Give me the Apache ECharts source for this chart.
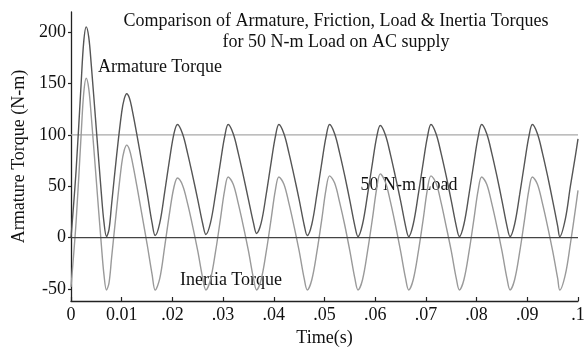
<!DOCTYPE html>
<html>
<head>
<meta charset="utf-8">
<script src="https://cdn.jsdelivr.net/npm/echarts@6/dist/echarts.min.js"></script>
<style>html,body{margin:0;padding:0;background:#fff;}#c{width:586px;height:347px;}</style>
</head>
<body>
<div id="c"></div>
<script>
// time (s)
var time = [
  0, 0.001, 0.002, 0.0025, 0.003, 0.0035, 0.004, 0.005, 0.006, 0.0065, 0.007, 0.0075, 0.008, 0.009,
  0.010, 0.0105, 0.011, 0.0115, 0.012, 0.013, 0.014, 0.015, 0.016, 0.0166, 0.0175, 0.0185, 0.0195, 0.0203,
  0.021, 0.022, 0.023, 0.024, 0.025, 0.026, 0.0266, 0.0275, 0.0285, 0.0295, 0.0303,
  0.031, 0.032, 0.033, 0.034, 0.035, 0.036, 0.0366, 0.0375, 0.0385, 0.0395, 0.0403,
  0.041, 0.042, 0.043, 0.044, 0.045, 0.046, 0.0466, 0.0475, 0.0485, 0.0495, 0.0503,
  0.051, 0.052, 0.053, 0.054, 0.055, 0.056, 0.0566, 0.0575, 0.0585, 0.0595, 0.0603,
  0.061, 0.062, 0.063, 0.064, 0.065, 0.066, 0.0666, 0.0675, 0.0685, 0.0695, 0.0703,
  0.071, 0.072, 0.073, 0.074, 0.075, 0.076, 0.0766, 0.0775, 0.0785, 0.0795, 0.0803,
  0.081, 0.082, 0.083, 0.084, 0.085, 0.086, 0.0866, 0.0875, 0.0885, 0.0895, 0.0903,
  0.091, 0.092, 0.093, 0.094, 0.095, 0.096, 0.0964, 0.0975, 0.0985, 0.0995, 0.1
];
// Armature torque (N-m), dark curve
var armature = [
  0, 65, 150, 190, 205, 195, 168, 105, 42, 15, 1, 8, 32, 80,
  122, 135, 140, 136, 126, 100, 72, 44, 14, 2, 14, 45, 78, 101,
  110, 101, 82, 60, 37, 13, 3, 14, 42, 74, 98,
  110, 101, 82, 60, 37, 14, 4, 14, 42, 74, 98,
  110, 101, 82, 60, 37, 12, 2, 13, 42, 74, 98,
  110, 101, 82, 60, 36, 11, 1, 13, 42, 74, 98,
  109, 100, 81, 59, 36, 11, 1, 13, 42, 74, 98,
  110, 101, 82, 60, 36, 11, 1, 13, 42, 74, 98,
  110, 101, 82, 60, 36, 11, 1, 13, 42, 74, 98,
  110, 101, 82, 60, 36, 11, 1, 18, 50, 80, 96
];
// Inertia torque (N-m), light curve
var inertia = [
  -48, 15, 100, 140, 155, 145, 118, 55, -8, -36, -51, -44, -20, 28,
  72, 85, 90, 86, 76, 50, 22, -6, -36, -51, -40, -8, 26, 49,
  58, 51, 33, 11, -13, -40, -51, -41, -14, 19, 46,
  59, 52, 33, 11, -13, -40, -51, -41, -14, 19, 46,
  59, 52, 33, 11, -13, -40, -51, -41, -14, 19, 47,
  60, 53, 34, 12, -13, -40, -51, -41, -13, 20, 48,
  62, 54, 35, 12, -13, -40, -51, -41, -14, 19, 47,
  60, 53, 34, 11, -13, -40, -51, -41, -14, 19, 46,
  59, 52, 33, 11, -13, -40, -51, -41, -14, 19, 46,
  59, 52, 33, 11, -13, -40, -51, -36, -6, 28, 46
];
// reference levels (N-m)
var zeroLevel = 0;
var upperLevel = 100;
var xTickLabels = ['0', '0.01', '.02', '.03', '.04', '.05', '.06', '.07', '.08', '.09', '.1'];
var yTickValues = [-50, 0, 50, 100, 150, 200];
var titleLines = ['Comparison of Armature, Friction, Load & Inertia Torques', 'for 50 N-m Load on AC supply'];

function pairs(ts, vs) { return ts.map(function (t, i) { return [t, vs[i]]; }); }
var tEnds = [time[0], time[time.length - 1]];

var FONT = '"Liberation Serif", "DejaVu Serif", serif';
var chart = echarts.init(document.getElementById('c'), null, { renderer: 'canvas' });
chart.setOption({
  animation: false,
  backgroundColor: '#ffffff',
  grid: { left: 71, right: 8, top: 12, bottom: 46, containLabel: false, outerBoundsMode: 'none' },
  xAxis: {
    type: 'value', min: 0, max: 0.1, interval: 0.01,
    name: 'Time(s)', nameLocation: 'middle', nameGap: 28,
    nameTextStyle: { fontFamily: FONT, fontSize: 18, color: '#111' },
    axisLine: { show: true, onZero: false, lineStyle: { color: '#222', width: 1.3 } },
    axisTick: { show: true, inside: true, length: 4, lineStyle: { color: '#222', width: 1.2 } },
    axisLabel: { fontFamily: FONT, fontSize: 18, color: '#111', margin: 5,
      formatter: function (v, i) { return xTickLabels[Math.round(v / 0.01)]; } },
    splitLine: { show: false }
  },
  yAxis: {
    type: 'value', min: -61.7, max: 219.5,
    name: 'Armature Torque (N-m)', nameLocation: 'middle', nameGap: 35,
    nameTextStyle: { fontFamily: FONT, fontSize: 18, color: '#111' },
    axisLine: { show: true, onZero: false, lineStyle: { color: '#222', width: 1.3 } },
    axisTick: { show: true, inside: false, length: 3, customValues: yTickValues, lineStyle: { color: '#222', width: 1.2 } },
    axisLabel: { fontFamily: FONT, fontSize: 18, color: '#111', margin: 5, customValues: yTickValues },
    splitLine: { show: false }
  },
  graphic: [
    { type: 'text', x: 336, y: 21, style: { text: titleLines[0], font: '18px ' + FONT, fill: '#111', textAlign: 'center', textVerticalAlign: 'middle' } },
    { type: 'text', x: 336, y: 42.5, style: { text: titleLines[1], font: '18px ' + FONT, fill: '#111', textAlign: 'center', textVerticalAlign: 'middle' } },
    { type: 'text', x: 160, y: 67, style: { text: 'Armature Torque', font: '18px ' + FONT, fill: '#111', textAlign: 'center', textVerticalAlign: 'middle' } },
    { type: 'text', x: 409, y: 185, style: { text: '50 N-m Load', font: '18px ' + FONT, fill: '#111', textAlign: 'center', textVerticalAlign: 'middle' } },
    { type: 'text', x: 231, y: 280, style: { text: 'Inertia Torque', font: '18px ' + FONT, fill: '#111', textAlign: 'center', textVerticalAlign: 'middle' } }
  ],
  series: [
    { type: 'line', data: pairs(tEnds, [upperLevel, upperLevel]), symbol: 'none', lineStyle: { color: '#a8a8a8', width: 1.2 }, z: 1 },
    { type: 'line', data: pairs(time, inertia), symbol: 'none', smooth: 0.35, lineStyle: { color: '#9a9a9a', width: 1.4 }, z: 2 },
    { type: 'line', data: pairs(time, armature), symbol: 'none', smooth: 0.35, lineStyle: { color: '#555555', width: 1.4 }, z: 3 },
    { type: 'line', data: pairs(tEnds, [zeroLevel, zeroLevel]), symbol: 'none', lineStyle: { color: '#444444', width: 1.3 }, z: 4 }
  ]
});
</script>
</body>
</html>
